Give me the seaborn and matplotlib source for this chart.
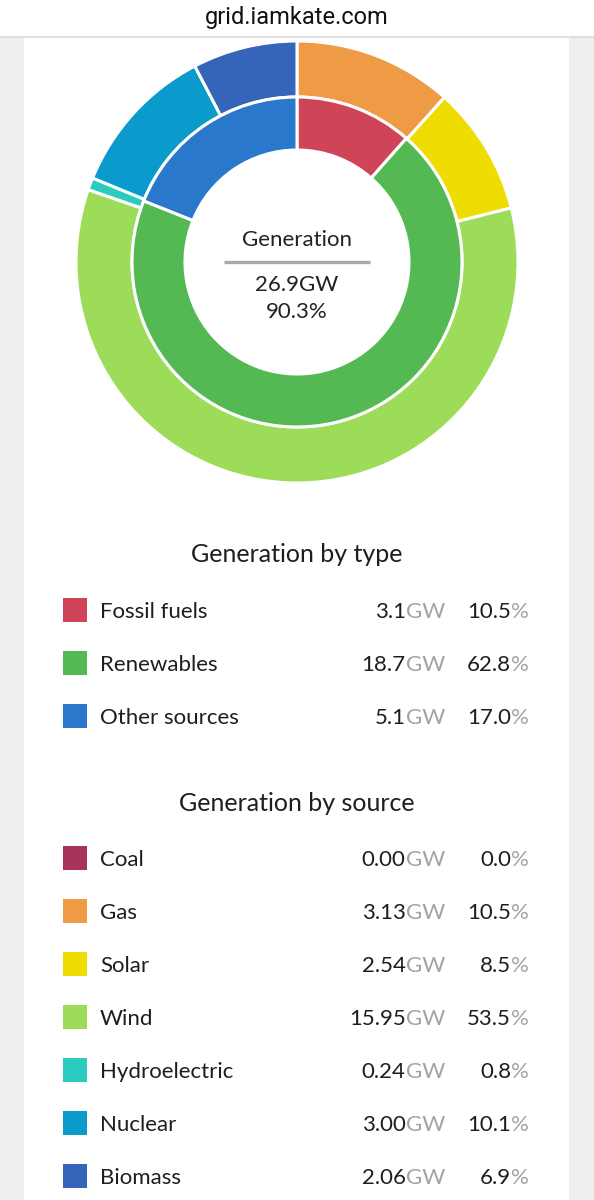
import matplotlib
matplotlib.use("Agg")
import matplotlib.pyplot as plt
from matplotlib.patches import Rectangle
import seaborn as sns

# ---------------- data ----------------
header_text = "grid.iamkate.com"
center_title = "Generation"
total_gw = 26.9
total_pct = 90.3

type_labels = ["Fossil fuels", "Renewables", "Other sources"]
type_gw = [3.1, 18.7, 5.1]
type_pct = [10.5, 62.8, 17.0]
type_colors = ["#d04457", "#55b953", "#2a78cc"]

source_labels = ["Coal", "Gas", "Solar", "Wind", "Hydroelectric", "Nuclear", "Biomass"]
source_gw = [0.00, 3.13, 2.54, 15.95, 0.24, 3.00, 2.06]
source_pct = [0.0, 10.5, 8.5, 53.5, 0.8, 10.1, 6.9]
source_colors = ["#a83358", "#ef9a45", "#efdc00", "#9ddc58", "#2ccbbf", "#0a9acb", "#3565b9"]

section_titles = ["Generation by type", "Generation by source"]

# ---------------- style ----------------
sns.set_theme(style="white")
BODY = ["Lato", "DejaVu Sans"]
HEAD = ["Roboto", "DejaVu Sans"]
plt.rcParams["font.family"] = BODY

W, H = 594, 1200
fig = plt.figure(figsize=(W / 100, H / 100), dpi=100)
fig.patch.set_facecolor("white")

bg = fig.add_axes([0, 0, 1, 1])
bg.set_xlim(0, W)
bg.set_ylim(H, 0)
bg.axis("off")

# page chrome
bg.add_patch(Rectangle((0, 37), 24, H - 37, color="#efefef", lw=0))
bg.add_patch(Rectangle((569, 37), W - 569, H - 37, color="#efefef", lw=0))
bg.plot([0, W], [36.5, 36.5], color="#dcdcdc", lw=1.2)
bg.text(W / 2, 24, header_text, ha="center", va="baseline", fontsize=17,
        color="#111111", family=HEAD)

# ---------------- donut ----------------
cx, cy, R = 297, 262, 221
dax = fig.add_axes([(cx - R) / W, (H - cy - R) / H, 2 * R / W, 2 * R / H])
outer_w = 56 / R
inner_r = 165 / R
inner_w = 53 / R
dax.pie(source_gw, radius=1.0, colors=source_colors, startangle=90, counterclock=False,
        wedgeprops=dict(width=outer_w, edgecolor="white", linewidth=2.2))
dax.pie(type_gw, radius=inner_r, colors=type_colors, startangle=90, counterclock=False,
        wedgeprops=dict(width=inner_w, edgecolor="white", linewidth=2.2))
dax.set_xlim(-1.0, 1.0)
dax.set_ylim(-1.0, 1.0)
dax.set_aspect("equal")
dax.axis("off")

bg.text(cx, 246, center_title, ha="center", va="baseline", fontsize=16, color="#222222")
bg.plot([224, 370], [261.5, 261.5], color="#a8a8a8", lw=2.4, solid_capstyle="butt")
bg.text(cx, 291, f"{total_gw:.1f}GW", ha="center", va="baseline", fontsize=16, color="#222222")
bg.text(cx, 318, f"{total_pct:.1f}%", ha="center", va="baseline", fontsize=16, color="#222222")

# ---------------- legends ----------------
renderer = fig.canvas.get_renderer()
DARK = "#1e1e1e"
GREY = "#a3a3a3"
FS = 16


def two_tone(x_right, y, main, unit):
    t = bg.text(x_right, y, unit, ha="right", va="baseline", fontsize=FS, color=GREY)
    bb = t.get_window_extent(renderer)
    bg.text(bb.x0, y, main, ha="right", va="baseline", fontsize=FS, color=DARK)


def section(title, title_y, row0, labels, gws, pcts, colors, dec):
    bg.text(cx, title_y, title, ha="center", va="baseline", fontsize=18, color=DARK)
    for i, (lab, g, p, c) in enumerate(zip(labels, gws, pcts, colors)):
        yc = row0 + i * 53
        bg.add_patch(Rectangle((63, yc - 12), 24, 24, color=c, lw=0))
        base = yc + 8
        bg.text(100, base, lab, ha="left", va="baseline", fontsize=FS, color=DARK)
        two_tone(445, base, f"{g:.{dec}f}", "GW")
        two_tone(529, base, f"{p:.1f}", "%")


section(section_titles[0], 562, 610, type_labels, type_gw, type_pct, type_colors, 1)
section(section_titles[1], 811, 858, source_labels, source_gw, source_pct, source_colors, 2)

fig.savefig("out.png", dpi=100, facecolor="white")
